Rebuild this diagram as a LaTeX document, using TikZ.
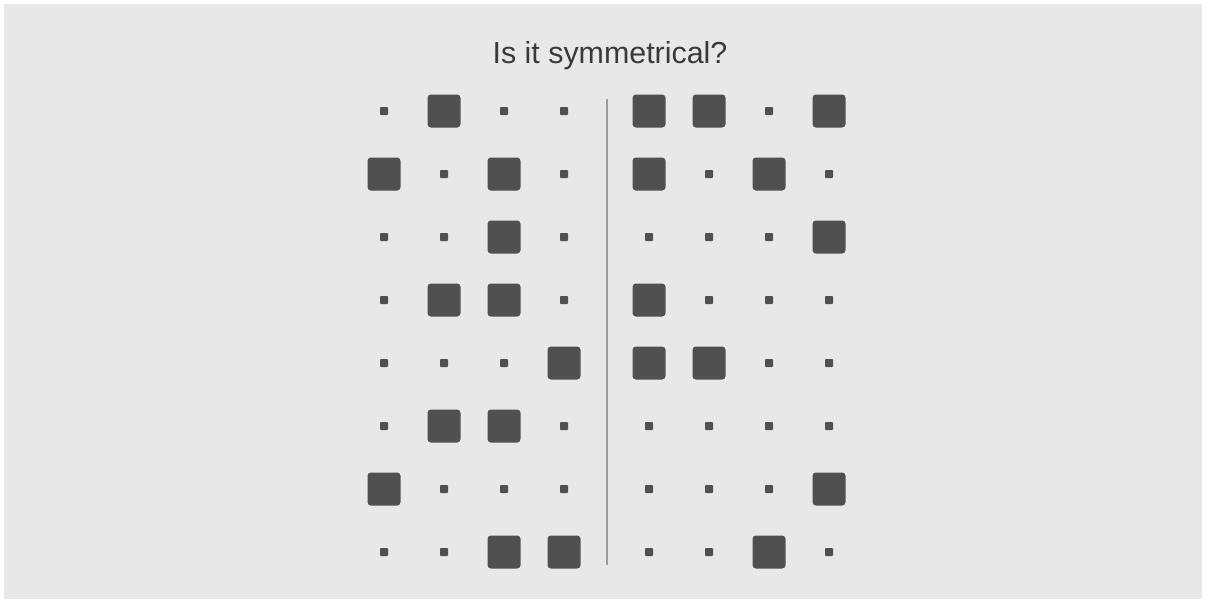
\documentclass[tikz,border=0pt]{standalone}
\usepackage{fontspec}
\setmainfont{Liberation Sans}
\definecolor{panelgray}{HTML}{E8E8E8}
\definecolor{cellgray}{HTML}{505050}
\definecolor{axisgray}{HTML}{9C9C9C}
\definecolor{titlegray}{HTML}{3A3A3A}
\tikzset{
  b-cell/.style={fill=cellgray,rounded corners=2.5pt,minimum size=24.75pt,inner sep=0pt},
  s-cell/.style={fill=cellgray,rounded corners=0.6pt,minimum size=6pt,inner sep=0pt}
}

\begin{document}
\begin{tikzpicture}[x=0.75pt,y=-0.75pt]
  \useasboundingbox (0,0) rectangle (1206,603);
  \fill[white] (0,0) rectangle (1206,603);
  \fill[panelgray] (4,4) rectangle (1202,599);
  \node[text=titlegray,font=\fontsize{22.8}{27}\selectfont] (title) at (610,56) {Is it symmetrical?};
  % b = big square, s = small square
  \foreach \row [count=\r] in {{s,b,s,s,b,b,s,b},{b,s,b,s,b,s,b,s},{s,s,b,s,s,s,s,b},{s,b,b,s,b,s,s,s},
                              {s,s,s,b,b,b,s,s},{s,b,b,s,s,s,s,s},{b,s,s,s,s,s,s,b},{s,s,b,b,s,s,b,s}}{
    \foreach \v [count=\c] in \row {
      \pgfmathsetmacro\cx{\c<5 ? 384+60*(\c-1) : 649+60*(\c-5)}
      \node[\v-cell] (cell-\r-\c) at (\cx,{111+63*(\r-1)}) {};
    }
  }
  \coordinate (divtop) at (607,99);
  \coordinate (divbot) at (607,565);
  \draw[axisgray,line width=1.4pt] (divtop) -- (divbot);
\end{tikzpicture}
\end{document}
